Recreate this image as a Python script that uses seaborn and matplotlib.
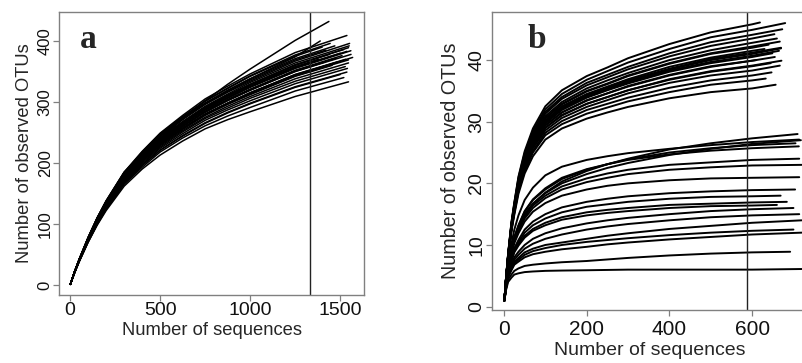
import numpy as np
import pandas as pd
import matplotlib
matplotlib.use("Agg")
import matplotlib.pyplot as plt
import seaborn as sns

sns.set_style("white")
plt.rcParams["font.family"] = ["Liberation Sans", "DejaVu Sans"]

# ---------------- panel a : rarefaction curves (y read at fixed x grid) ----------------
a_grid_x = [1, 25, 50, 100, 150, 200, 300, 400, 500, 625, 750, 875, 1000, 1250]
a_curves_y = [
    [1, 22, 42, 78, 110, 138, 185, 214, 240, 272, 302, 329, 354, 401],
    [1, 22, 42, 78, 110, 138, 185, 219, 249, 278, 305, 326, 346, 381],
    [1, 22, 41, 77, 109, 136, 182, 215, 245, 273, 298, 319, 338, 374],
    [1, 22, 42, 78, 110, 137, 184, 218, 248, 276, 302, 323, 343, 377],
    [1, 22, 41, 77, 108, 135, 181, 214, 243, 271, 296, 316, 334, 367],
    [1, 22, 41, 76, 107, 133, 179, 212, 240, 267, 291, 311, 329, 361],
    [1, 21, 40, 75, 106, 132, 177, 209, 237, 263, 287, 306, 324, 355],
    [1, 22, 41, 75, 106, 132, 177, 209, 237, 264, 288, 307, 325, 356],
    [1, 21, 40, 74, 104, 130, 174, 205, 231, 257, 280, 298, 315, 344],
    [1, 21, 40, 74, 104, 130, 173, 204, 230, 256, 279, 297, 313, 343],
    [1, 21, 40, 73, 103, 128, 171, 202, 228, 253, 275, 293, 309, 338],
    [1, 21, 39, 73, 102, 127, 170, 200, 226, 251, 273, 290, 306, 334],
    [1, 21, 39, 71, 100, 125, 167, 196, 221, 245, 266, 283, 298, 325],
    [1, 20, 38, 70, 98, 122, 162, 190, 213, 236, 256, 271, 284, 309],
    [1, 22, 42, 77, 109, 137, 184, 217, 247, 275, 301, 322, 342, 375],
    [1, 22, 41, 77, 108, 135, 181, 214, 244, 272, 297, 317, 336, 369],
    [1, 22, 41, 77, 109, 136, 182, 215, 245, 273, 298, 319, 338, 371],
    [1, 22, 41, 75, 106, 132, 177, 209, 237, 264, 288, 307, 325, 357],
    [1, 21, 40, 75, 105, 131, 176, 207, 235, 261, 285, 304, 321, 352],
    [1, 21, 40, 74, 105, 131, 175, 206, 234, 260, 284, 303, 320, 351],
    [1, 22, 41, 76, 107, 133, 179, 211, 239, 266, 291, 311, 329, 361],
    [1, 22, 41, 76, 107, 133, 178, 210, 239, 266, 291, 310, 328, 360],
    [1, 21, 40, 74, 104, 130, 174, 205, 232, 257, 280, 298, 315, 345],
    [1, 21, 40, 74, 105, 131, 175, 206, 234, 260, 283, 302, 319, 350],
    [1, 21, 40, 74, 104, 130, 173, 204, 231, 257, 280, 298, 315, 345],
    [1, 21, 40, 74, 103, 129, 173, 203, 230, 255, 278, 296, 312, 342],
    [1, 21, 39, 72, 101, 126, 169, 198, 224, 248, 270, 287, 302, 330],
    [1, 21, 39, 71, 100, 125, 167, 196, 221, 244, 265, 282, 297, 324],
    [1, 20, 38, 71, 99, 124, 165, 193, 218, 241, 261, 277, 291, 318],
    [1, 22, 41, 75, 106, 133, 178, 210, 238, 265, 289, 309, 327, 358],
    [1, 21, 40, 74, 105, 131, 175, 206, 234, 260, 284, 303, 320, 350],
    [1, 22, 41, 76, 108, 134, 180, 212, 241, 268, 293, 313, 332, 364],
]
a_end_x = [1437, 1537, 1389, 1444, 1552, 1546, 1559, 1537, 1569, 1546, 1546, 1528,
           1537, 1546, 1400, 1420, 1470, 1500, 1510, 1480, 1520, 1440, 1530, 1560,
           1490, 1455, 1540, 1500, 1520, 1380, 1410, 1550]
a_end_y = [432, 409, 400, 396, 396, 389, 384, 383, 373, 369, 364, 358,
           349, 333, 390, 385, 392, 380, 376, 372, 386, 378, 370, 378,
           366, 360, 355, 345, 340, 370, 365, 392]
a_cutoff = 1333

# ---------------- panel b ----------------
b_grid_x = [1, 5, 10, 18, 25, 35, 50, 70, 100, 140, 200, 250, 300, 400, 500, 600]
b_curves_y = [
    # upper group
    [1, 4.8, 8.6, 13.7, 16.9, 21.1, 25.2, 28.9, 32.5, 35.1, 37.4, 38.8, 40.3, 42.6, 44.5, 45.8],
    [1, 4.7, 8.5, 13.6, 16.8, 20.9, 24.9, 28.5, 32.0, 34.5, 36.8, 38.2, 39.6, 41.8, 43.7, 44.9],
    [1, 4.7, 8.5, 13.4, 16.6, 20.6, 24.6, 28.1, 31.6, 34.0, 36.3, 37.6, 38.9, 41.1, 42.9, 44.1],
    [1, 4.7, 8.4, 13.4, 16.5, 20.5, 24.4, 27.9, 31.3, 33.7, 35.9, 37.2, 38.5, 40.6, 42.3, 43.5],
    [1, 4.6, 8.3, 13.2, 16.2, 20.1, 23.9, 27.3, 30.6, 32.9, 35.0, 36.2, 37.5, 39.5, 41.1, 42.2],
    [1, 4.6, 8.2, 13.0, 16.0, 19.8, 23.5, 26.8, 30.0, 32.2, 34.2, 35.4, 36.6, 38.5, 40.0, 41.0],
    [1, 4.6, 8.2, 12.9, 15.9, 19.7, 23.3, 26.6, 29.7, 31.9, 33.9, 35.1, 36.2, 38.1, 39.5, 40.5],
    [1, 4.5, 8.1, 12.7, 15.6, 19.3, 22.8, 26.0, 29.0, 31.1, 32.9, 34.0, 35.1, 36.9, 38.2, 39.1],
    [1, 4.5, 8.0, 12.6, 15.5, 19.1, 22.6, 25.7, 28.6, 30.6, 32.4, 33.5, 34.6, 36.3, 37.5, 38.3],
    [1, 4.5, 7.9, 12.5, 15.3, 18.9, 22.3, 25.3, 28.2, 30.1, 31.9, 32.9, 33.9, 35.5, 36.7, 37.5],
    [1, 4.5, 7.9, 12.4, 15.2, 18.7, 22.0, 25.0, 27.8, 29.6, 31.3, 32.3, 33.3, 34.8, 36.0, 36.7],
    [1, 4.4, 7.8, 12.2, 14.9, 18.3, 21.6, 24.4, 27.1, 28.9, 30.5, 31.5, 32.4, 33.8, 34.8, 35.4],
    [1, 4.6, 8.3, 13.2, 16.2, 20.1, 23.9, 27.2, 30.5, 32.8, 34.9, 36.1, 37.4, 39.4, 41.0, 42.0],
    [1, 4.6, 8.2, 13.0, 15.9, 19.7, 23.4, 26.7, 29.9, 32.0, 34.0, 35.2, 36.4, 38.3, 39.7, 40.7],
    [1, 4.6, 8.1, 12.8, 15.8, 19.5, 23.1, 26.3, 29.4, 31.5, 33.4, 34.6, 35.7, 37.5, 38.9, 39.9],
    [1, 4.6, 8.2, 13.1, 16.1, 19.9, 23.7, 27.0, 30.2, 32.5, 34.5, 35.7, 36.9, 38.9, 40.4, 41.5],
    [1, 4.7, 8.3, 13.3, 16.3, 20.3, 24.1, 27.6, 30.9, 33.2, 35.4, 36.7, 37.9, 40.0, 41.6, 42.8],
    [1, 4.5, 8.0, 12.7, 15.6, 19.3, 22.8, 26.0, 29.0, 31.0, 32.9, 34.0, 35.1, 36.8, 38.1, 39.0],
    [1, 4.6, 8.2, 13.0, 16.0, 19.8, 23.6, 26.9, 30.1, 32.3, 34.3, 35.5, 36.7, 38.6, 40.2, 41.2],
    [1, 4.6, 8.1, 12.8, 15.8, 19.5, 23.1, 26.3, 29.4, 31.5, 33.5, 34.6, 35.8, 37.6, 39.0, 39.9],
    # middle group
    [1, 3.8, 6.5, 9.0, 11.0, 12.8, 15.0, 16.7, 18.5, 20.3, 22.0, 23.1, 24.0, 25.5, 26.5, 27.3],
    [1, 4.1, 7.0, 10.2, 12.5, 14.8, 17.3, 19.3, 21.3, 22.7, 23.8, 24.4, 24.9, 25.6, 26.2, 26.7],
    [1, 3.9, 6.6, 9.2, 11.3, 13.2, 15.5, 17.4, 19.2, 20.9, 22.3, 23.1, 23.8, 24.7, 25.3, 25.7],
    [1, 3.9, 6.6, 9.1, 11.2, 13.1, 15.4, 17.3, 19.0, 20.7, 22.2, 23.1, 23.9, 25.0, 25.7, 26.2],
    [1, 3.8, 6.4, 8.8, 10.8, 12.5, 14.6, 16.4, 18.0, 19.5, 20.8, 21.6, 22.2, 23.0, 23.4, 23.8],
    [1, 3.7, 6.3, 8.7, 10.6, 12.3, 14.3, 16.0, 17.6, 19.0, 20.2, 20.9, 21.5, 22.2, 22.6, 22.9],
    [1, 3.7, 6.2, 8.5, 10.3, 11.9, 13.8, 15.4, 16.8, 18.0, 19.0, 19.6, 20.0, 20.5, 20.8, 20.9],
    [1, 3.8, 6.4, 8.9, 10.9, 12.7, 14.9, 16.7, 18.4, 20.0, 21.5, 22.5, 23.3, 24.6, 25.6, 26.4],
    # lower group
    [1, 3.5, 5.8, 7.9, 9.5, 10.8, 12.5, 13.8, 15.0, 16.1, 17.0, 17.5, 17.9, 18.4, 18.7, 18.9],
    [1, 3.4, 5.7, 7.7, 9.2, 10.4, 12.0, 13.2, 14.3, 15.3, 16.2, 16.6, 17.0, 17.5, 17.8, 17.9],
    [1, 3.4, 5.6, 7.5, 9.0, 10.1, 11.5, 12.6, 13.6, 14.5, 15.3, 15.7, 16.0, 16.5, 16.7, 16.9],
    [1, 3.3, 5.3, 6.8, 8.0, 8.9, 10.0, 11.0, 11.9, 12.7, 13.5, 14.0, 14.4, 15.0, 15.5, 15.8],
    [1, 3.2, 5.1, 6.5, 7.6, 8.4, 9.4, 10.2, 11.0, 11.7, 12.5, 13.0, 13.4, 14.0, 14.5, 14.8],
    [1, 3.1, 5.0, 6.2, 7.2, 7.9, 8.8, 9.4, 10.0, 10.4, 11.0, 11.5, 11.9, 12.6, 13.1, 13.6],
    [1, 3.0, 4.8, 5.9, 6.8, 7.3, 8.0, 8.5, 8.9, 9.3, 9.7, 10.1, 10.4, 10.9, 11.3, 11.7],
    [1, 2.9, 4.4, 5.2, 5.8, 6.2, 6.6, 6.8, 7.0, 7.2, 7.4, 7.65, 7.9, 8.3, 8.6, 8.8],
    [1, 2.7, 4.0, 4.7, 5.2, 5.4, 5.6, 5.7, 5.8, 5.85, 5.9, 5.95, 6.0, 6.0, 6.0, 6.0],
    [1, 3.4, 5.5, 7.4, 8.8, 9.9, 11.2, 12.3, 13.2, 14.1, 14.8, 15.2, 15.5, 16.0, 16.3, 16.4],
    [1, 3.1, 4.9, 6.0, 7.0, 7.6, 8.4, 9.0, 9.5, 10.0, 10.5, 10.8, 11.1, 11.6, 12.0, 12.3],
]
b_end_x = [619, 680, 673, 654, 667, 670, 649, 671, 667, 647, 633, 657, 640, 665, 655, 630,
           660, 645, 670, 610,
           710, 714, 713, 705, 714, 720, 714, 718,
           704, 669, 684, 700, 714, 720, 720, 692, 720, 660, 700]
b_end_y = [46.1, 46.0, 45.0, 44.2, 43.0, 41.9, 41.1, 39.9, 39.1, 38.0, 37.0, 36.0, 42.5, 41.5,
           40.5, 41.8, 43.5, 39.5, 42.0, 40.0,
           28.0, 27.1, 26.0, 26.5, 24.0, 23.0, 21.0, 27.0,
           19.0, 18.0, 17.0, 16.0, 15.0, 14.0, 12.0, 8.9, 6.1, 16.5, 12.5]
b_cutoff = 588


def long_table(grid, rows, end_x, end_y):
    recs = []
    for i, (r, ex, ey) in enumerate(zip(rows, end_x, end_y)):
        for gx, gy in zip(grid, r):
            if gx < ex:
                recs.append((i, gx, gy))
        recs.append((i, ex, ey))
    return pd.DataFrame(recs, columns=["curve", "x", "y"])


dfa = long_table(a_grid_x, a_curves_y, a_end_x, a_end_y)
dfb = long_table(b_grid_x, b_curves_y, b_end_x, b_end_y)

W, H = 803, 363
fig = plt.figure(figsize=(W / 100, H / 100), dpi=100)
axa = fig.add_axes([59 / W, 1 - 295 / H, 305 / W, (295 - 11.7) / H])
axb = fig.add_axes([492 / W, 1 - 310 / H, 321.5 / W, (310 - 12) / H])

sns.lineplot(data=dfa, x="x", y="y", units="curve", estimator=None, color="black",
             lw=1.1, ax=axa, legend=False)
sns.lineplot(data=dfb, x="x", y="y", units="curve", estimator=None, color="black",
             lw=1.4, ax=axb, legend=False)

axa.axvline(a_cutoff, color="#222222", lw=1.0)
axb.axvline(b_cutoff, color="#222222", lw=1.0)

axa.set_xlim(-62, 1632)
axa.set_ylim(-16.5, 448)
axb.set_xlim(-29, 748.5)
axb.set_ylim(-0.55, 47.8)
axa.set_xticks([0, 500, 1000, 1500])
axa.set_yticks([0, 100, 200, 300, 400])
axb.set_xticks([0, 200, 400, 600])
axb.set_yticks([0, 10, 20, 30, 40])

spine_col = "#808080"
for ax in (axa, axb):
    for s in ax.spines.values():
        s.set_visible(True)
        s.set_color(spine_col)
        s.set_linewidth(1.0)
    ax.tick_params(axis="both", which="major", direction="out", length=4.3, width=0.9,
                   color=spine_col, labelcolor="#111111", bottom=True, left=True)
    ax.set_xlabel("Number of sequences")
    ax.set_ylabel("Number of observed OTUs")

axa.tick_params(axis="x", labelsize=14, pad=1)
axa.tick_params(axis="y", labelsize=12, pad=0.2, labelrotation=90)
axb.tick_params(axis="x", labelsize=15, pad=3)
axb.tick_params(axis="y", labelsize=14, pad=0.7, labelrotation=90)
for ax in (axa, axb):
    for lab in ax.get_yticklabels():
        lab.set_verticalalignment("center")

axa.xaxis.label.set_size(13.2)
axa.yaxis.label.set_size(13.2)
axb.xaxis.label.set_size(14)
axb.yaxis.label.set_size(14.2)
axa.xaxis.set_label_coords(0.5, -0.097)
axa.yaxis.set_label_coords(-0.085, 0.5)
axb.xaxis.set_label_coords((650 - 492) / 321.5, -0.106)
axb.yaxis.set_label_coords(-0.098, 0.5)

axa.text(0.069, 0.872, "a", transform=axa.transAxes, fontsize=24, fontweight="bold",
         family=["Liberation Serif", "DejaVu Serif"], va="baseline", ha="left")
axb.text(0.112, 0.879, "b", transform=axb.transAxes, fontsize=24, fontweight="bold",
         family=["Liberation Serif", "DejaVu Serif"], va="baseline", ha="left")

fig.savefig("out.png", dpi=100)
